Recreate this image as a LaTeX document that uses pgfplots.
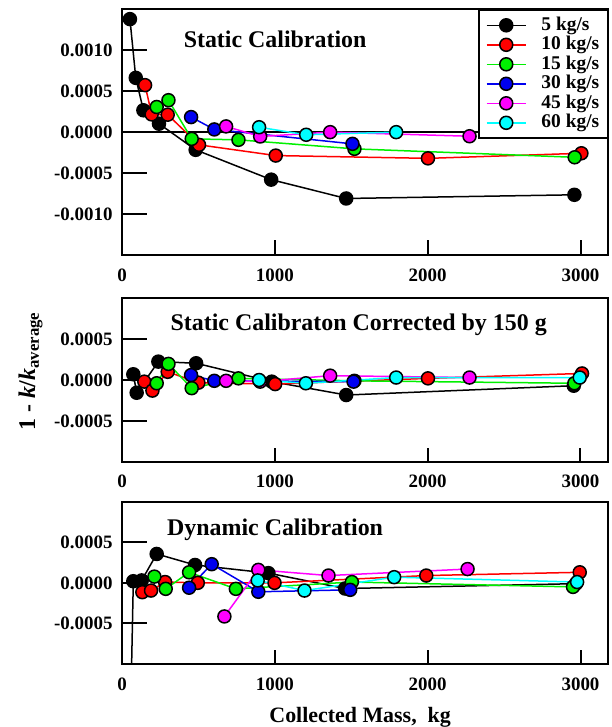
\documentclass[border=0pt]{standalone}
\usepackage{fontspec}
\setmainfont{Liberation Serif}
\usepackage{pgfplots}
\pgfplotsset{compat=1.18}
\definecolor{cgreen}{RGB}{0,240,0}
\definecolor{cblue}{RGB}{0,0,240}
\definecolor{cmag}{RGB}{255,0,255}
\definecolor{ccyan}{RGB}{0,255,255}
\tikzset{ttl/.style={anchor=base, font=\fontsize{24}{24}\selectfont\bfseries}}
\pgfplotsset{
  calib/.style={
    scale only axis, width=486bp,
    xmin=0, xmax=3180,
    clip=false,
    axis line style={line width=2bp},
    tick style={draw=none},
    tick align=inside,
    tick pos=left,
    xtick={0,1000,2000,3000}, xticklabels={0,1000,2000,3000},
    scaled y ticks=false, scaled x ticks=false,
    ticklabel style={font=\fontsize{19}{19}\selectfont\bfseries},
    xticklabel style={yshift=-10bp},
    yticklabel style={xshift=-6bp},
    every axis plot/.append style={line width=1.5bp, mark=*, mark size=6.5bp},
  },
  tk/.style={black, line width=2bp, no marks, forget plot},
  s5/.style={black, mark options={fill=black, draw=black, line width=1.5bp}},
  s10/.style={red, mark options={fill=red, draw=black, line width=1.5bp}},
  s15/.style={cgreen, mark options={fill=cgreen, draw=black, line width=1.5bp}},
  s30/.style={cblue, mark options={fill=cblue, draw=black, line width=1.5bp}},
  s45/.style={cmag, mark options={fill=cmag, draw=black, line width=1.5bp}},
  s60/.style={ccyan, mark options={fill=ccyan, draw=black, line width=1.5bp}},
}
\begin{document}
\begin{tikzpicture}
\useasboundingbox (0,0) rectangle (612bp,727bp);
% ---------------- top panel
\begin{axis}[calib, at={(122bp,472bp)}, anchor=south west, height=245.7bp,
  ymin=-0.0015, ymax=0.0015,
  ytick={-0.001,-0.0005,0,0.0005,0.001},
  yticklabels={-0.0010,-0.0005,0.0000,0.0005,0.0010},
  legend style={at={(1,1)}, anchor=north east, draw=black, line width=1.5bp, fill=white,
    font=\fontsize{19.5}{17}\selectfont\bfseries, row sep=1bp, inner xsep=7bp, inner ysep=6bp,
    nodes={inner sep=1bp, text height=13bp, text depth=3.5bp}},
  legend cell align=left,
  legend image code/.code={\draw[mark repeat=2, mark phase=2, #1] plot coordinates {(0bp,0bp) (19.5bp,0bp) (39bp,0bp)}; \path (53bp,0bp);},
]
% axis ticks and zero line
\addplot[tk] coordinates {(0,0) (3180,0)};
\addplot[tk] coordinates {(0,0.001) (164,0.001)};
\addplot[tk] coordinates {(0,0.0005) (164,0.0005)};
\addplot[tk] coordinates {(0,-0.0005) (164,-0.0005)};
\addplot[tk] coordinates {(0,-0.001) (164,-0.001)};
\addplot[tk] coordinates {(1000,-0.0015) (1000,-0.00132)};
\addplot[tk] coordinates {(2000,-0.0015) (2000,-0.00132)};
\addplot[tk] coordinates {(3000,-0.0015) (3000,-0.00132)};
% data
\addplot[s5] coordinates {(52,0.00138) (90,0.000663) (140,0.000267) (242,0.000103) (482,-0.000216) (976,-0.00058) (1467,-0.00081) (2960,-0.000765)};
\addplot[s10] coordinates {(151,0.000574) (194,0.000217) (299,0.000213) (504,-0.000155) (1006,-0.000286) (2002,-0.00032) (3006,-0.000258)};
\addplot[s15] coordinates {(227,0.000307) (304,0.00039) (456,-0.000082) (762,-0.000094) (1521,-0.000204) (2962,-0.000307)};
\addplot[s30] coordinates {(452,0.000184) (604,0.000033) (1508,-0.000143)};
\addplot[s45] coordinates {(681,0.00007) (904,-0.000053) (1362,0.0) (2274,-0.00005)};
\addplot[s60] coordinates {(897,0.00006) (1205,-0.000032) (1794,0.0)};
\legend{5 kg/s,10 kg/s,15 kg/s,30 kg/s,45 kg/s,60 kg/s}
\node[ttl] at (rel axis cs:0.315,0.845) {Static Calibration};
\end{axis}
% ---------------- middle panel
\begin{axis}[calib, at={(122bp,265.3bp)}, anchor=south west, height=163.4bp,
  ymin=-0.001, ymax=0.001,
  ytick={-0.0005,0,0.0005},
  yticklabels={-0.0005,0.0000,0.0005},
  ylabel={1 - \textit{k}/\textit{k}\textsubscript{average}},
  ylabel style={font=\fontsize{24}{24}\selectfont\bfseries, at={(axis description cs:-0.163,0.552)}, anchor=south, inner sep=0pt},
]
\addplot[tk] coordinates {(0,0.0005) (164,0.0005)};
\addplot[tk] coordinates {(0,0) (164,0)};
\addplot[tk] coordinates {(0,-0.0005) (164,-0.0005)};
\addplot[tk] coordinates {(1000,-0.001) (1000,-0.00083)};
\addplot[tk] coordinates {(2000,-0.001) (2000,-0.00083)};
\addplot[tk] coordinates {(3000,-0.001) (3000,-0.00083)};
\addplot[s5] coordinates {(74,0.00007) (96,-0.000156) (238,0.000225) (485,0.000205) (980,-0.00002) (1467,-0.000184) (2956,-0.00007)};
\addplot[s10] coordinates {(146,-0.00002) (199,-0.00013) (299,0.0001) (500,-0.000033) (1002,-0.00005) (2002,0.00002) (3010,0.00008)};
\addplot[s15] coordinates {(227,-0.00004) (304,0.000197) (456,-0.0001) (762,0.00002) (1521,-0.00001) (2960,-0.00004)};
\addplot[s30] coordinates {(452,0.00006) (604,-0.00001) (1515,-0.00002)};
\addplot[s45] coordinates {(681,-0.00001) (904,-0.00002) (1362,0.000053) (2274,0.00003)};
\addplot[s60] coordinates {(897,0.0) (1203,-0.00004) (1794,0.00003) (2995,0.00003)};
\node[ttl] at (rel axis cs:0.487,0.803) {Static Calibraton Corrected by 150 g};
\end{axis}
% ---------------- bottom panel
\begin{axis}[calib, at={(122bp,63bp)}, anchor=south west, height=162.3bp,
  ymin=-0.001, ymax=0.001,
  ytick={-0.0005,0,0.0005},
  yticklabels={-0.0005,0.0000,0.0005},
  xlabel={Collected Mass,\ \ kg},
  xlabel style={font=\fontsize{22}{22}\selectfont\bfseries, at={(axis description cs:0.49,0)}, anchor=base, yshift=-58bp},
]
\addplot[tk] coordinates {(0,0.0005) (164,0.0005)};
\addplot[tk] coordinates {(0,0) (164,0)};
\addplot[tk] coordinates {(0,-0.0005) (164,-0.0005)};
\addplot[tk] coordinates {(1000,-0.001) (1000,-0.00083)};
\addplot[tk] coordinates {(2000,-0.001) (2000,-0.00083)};
\addplot[tk] coordinates {(3000,-0.001) (3000,-0.00083)};
\addplot[black, line width=1.5bp, no marks, forget plot] coordinates {(63,-0.001) (74,0.00002)};
\addplot[s5] coordinates {(74,0.00002) (129,0.00003) (227,0.000356) (478,0.00022) (958,0.00012) (1460,-0.00007) (2970,-0.00001)};
\addplot[s10] coordinates {(133,-0.000115) (190,-0.000095) (282,0.00001) (496,0.0) (998,0.0) (1991,0.00009) (2995,0.00013)};
\addplot[s15] coordinates {(212,0.000077) (286,-0.000074) (439,0.00013) (745,-0.000074) (1504,0.00001) (2951,-0.00005)};
\addplot[s30] coordinates {(439,-0.00006) (587,0.00023) (892,-0.00011) (1493,-0.000086)};
\addplot[s45] coordinates {(670,-0.000414) (892,0.00016) (1351,0.00009) (2261,0.00017)};
\addplot[s60] coordinates {(888,0.00003) (1194,-0.000095) (1781,0.00007) (2978,0.00001)};
\node[ttl] at (rel axis cs:0.315,0.79) {Dynamic Calibration};
\end{axis}
\end{tikzpicture}
\end{document}
